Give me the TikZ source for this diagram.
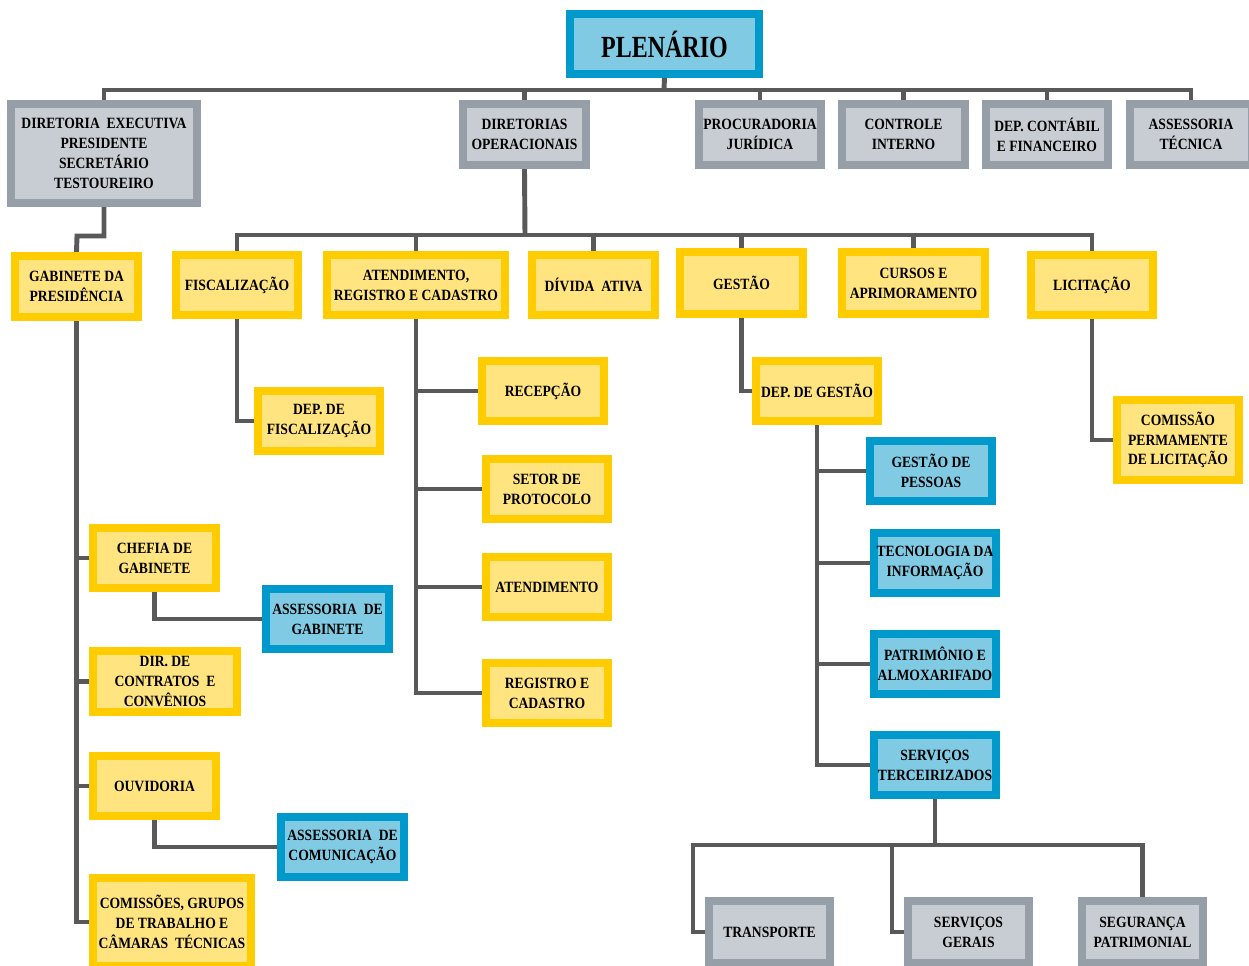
\documentclass[tikz,border=0pt]{standalone}
\usepackage{fontspec}
\setmainfont{Liberation Serif}[FakeStretch=0.87]
\newfontfamily\plfont{Liberation Serif}[FakeStretch=0.78]
\usetikzlibrary{backgrounds}
\definecolor{gbd}{RGB}{150,158,167}
\definecolor{gfl}{RGB}{200,205,211}
\definecolor{ybd}{RGB}{255,204,0}
\definecolor{yfl}{RGB}{255,228,128}
\definecolor{bbd}{RGB}{0,153,204}
\definecolor{bfl}{RGB}{128,203,227}
\definecolor{lc}{RGB}{89,89,89}
\tikzset{
 box/.style={line width=4.5pt, align=center, inner sep=0.5pt, font=\fontsize{8.9}{11.3}\selectfont\bfseries},
 gbox/.style={box, draw=gbd, fill=gfl},
 ybox/.style={box, draw=ybd, fill=yfl},
 bbox/.style={box, draw=bbd, fill=bfl},
 conn/.style={draw=lc, line width=2.8pt},
}
\newcommand\bx[7]{\node[#1, minimum width={(#5-#3-8)*0.5669pt}, minimum height={(#6-#4-8)*0.5669pt}] (#2) at ({(#3+#5)/2},{(#4+#6)/2}) {#7};}
\begin{document}
\begin{tikzpicture}[x=0.02cm,y=-0.02cm]
\useasboundingbox (0,0) rectangle (1249,966);
% top
\bx{bbox,font=\plfont\fontsize{17.5}{20}\selectfont\bfseries}{plen}{566}{10}{763}{78}{PLENÁRIO}
\bx{gbox}{de}{7}{100}{201}{207}{DIRETORIA~~EXECUTIVA\\PRESIDENTE\\SECRETÁRIO\\TESTOUREIRO}
\bx{gbox}{do}{459}{100}{590}{169}{DIRETORIAS\\OPERACIONAIS}
\bx{gbox}{pj}{695}{100}{825}{169}{PROCURADORIA\\JURÍDICA}
\bx{gbox}{ci}{838}{100}{969}{169}{CONTROLE\\INTERNO}
\bx{gbox}{dcf}{982}{100}{1112}{169}{DEP. CONTÁBIL\\E FINANCEIRO}
\bx{gbox}{at}{1126}{100}{1256}{169}{ASSESSORIA\\TÉCNICA}
% second row
\bx{ybox}{gp}{11}{252}{142}{321}{GABINETE DA\\PRESIDÊNCIA}
\bx{ybox}{fis}{172}{251}{302}{319}{FISCALIZAÇÃO}
\bx{ybox}{atr}{323}{251}{509}{319}{ATENDIMENTO,\\REGISTRO E CADASTRO}
\bx{ybox}{da}{528}{251}{659}{319}{DÍVIDA~~ATIVA}
\bx{ybox}{ges}{676}{248}{807}{318}{GESTÃO}
\bx{ybox}{cur}{838}{248}{989}{318}{CURSOS E\\APRIMORAMENTO}
\bx{ybox}{lic}{1027}{251}{1157}{319}{LICITAÇÃO}
% fiscalizacao / atendimento
\bx{ybox}{df}{254}{387}{384}{455}{DEP. DE\\FISCALIZAÇÃO}
\bx{ybox}{rec}{478}{357}{608}{425}{RECEPÇÃO}
\bx{ybox}{sp}{482}{455}{612}{523}{SETOR DE\\PROTOCOLO}
\bx{ybox}{atd}{482}{553}{612}{621}{ATENDIMENTO}
\bx{ybox}{rc}{482}{659}{612}{727}{REGISTRO E\\CADASTRO}
% gestao
\bx{ybox}{dg}{752}{357}{882}{425}{DEP. DE GESTÃO}
\bx{bbox}{gpe}{866}{437}{996}{505}{GESTÃO DE\\PESSOAS}
\bx{bbox}{ti}{870}{529}{1000}{597}{TECNOLOGIA DA\\INFORMAÇÃO}
\bx{bbox}{pa}{870}{630}{1000}{698}{PATRIMÔNIO E\\ALMOXARIFADO}
\bx{bbox}{st}{870}{731}{1000}{799}{SERVIÇOS\\TERCEIRIZADOS}
\bx{gbox}{tr}{705}{897}{834}{967}{TRANSPORTE}
\bx{gbox}{sg}{904}{897}{1033}{967}{SERVIÇOS\\GERAIS}
\bx{gbox}{seg}{1078}{897}{1207}{967}{SEGURANÇA\\PATRIMONIAL}
% licitacao
\bx{ybox}{cpl}{1113}{396}{1243}{484}{COMISSÃO\\PERMAMENTE\\DE LICITAÇÃO}
% gabinete
\bx{ybox}{cg}{89}{524}{220}{592}{CHEFIA DE\\GABINETE}
\bx{bbox}{ag}{262}{585}{393}{653}{ASSESSORIA~~DE\\GABINETE}
\bx{ybox}{dc}{89}{647}{241}{716}{DIR. DE\\CONTRATOS~~E\\CONVÊNIOS}
\bx{ybox}{ouv}{89}{752}{220}{820}{OUVIDORIA}
\bx{bbox}{ac}{277}{813}{408}{881}{ASSESSORIA~~DE\\COMUNICAÇÃO}
\bx{ybox}{com}{89}{874}{255}{970}{COMISSÕES, GRUPOS\\DE TRABALHO E\\CÂMARAS~~TÉCNICAS}
% junction coordinates
\coordinate (b0) at (664,90);
\coordinate (j1) at (77,236);
\coordinate (b2) at (525,235);
\coordinate (b3) at (935,845);
\coordinate (tk) at (693,845);
\coordinate (sk) at (892,845);
\begin{scope}[on background layer]
\fill[white] (0,0) rectangle (1249,966);
\draw[conn] (plen.south) -- (b0);
\draw[conn] (de.north) |- (b0) -| (at.north);
\draw[conn] (do.north) -- (do.north |- b0);
\draw[conn] (pj.north) -- (pj.north |- b0);
\draw[conn] (ci.north) -- (ci.north |- b0);
\draw[conn] (dcf.north) -- (dcf.north |- b0);
\draw[conn] (de.south) |- (j1) -- (gp.north);
\draw[conn] (gp.south) |- (cg.west);
\draw[conn] (gp.south) |- (dc.west);
\draw[conn] (gp.south) |- (ouv.west);
\draw[conn] (gp.south) |- (com.west);
\draw[conn] (cg.south) |- (ag.west);
\draw[conn] (ouv.south) |- (ac.west);
\draw[conn] (do.south) -- (b2);
\draw[conn] (fis.north) |- (b2) -| (lic.north);
\draw[conn] (atr.north) -- (atr.north |- b2);
\draw[conn] (da.north) -- (da.north |- b2);
\draw[conn] (ges.north) -- (ges.north |- b2);
\draw[conn] (cur.north) -- (cur.north |- b2);
\draw[conn] (fis.south) |- (df.west);
\draw[conn] (atr.south) |- (rec.west);
\draw[conn] (atr.south) |- (sp.west);
\draw[conn] (atr.south) |- (atd.west);
\draw[conn] (atr.south) |- (rc.west);
\draw[conn] (ges.south) |- (dg.west);
\draw[conn] (dg.south) |- (gpe.west);
\draw[conn] (dg.south) |- (ti.west);
\draw[conn] (dg.south) |- (pa.west);
\draw[conn] (dg.south) |- (st.west);
\draw[conn] (lic.south) |- (cpl.west);
\draw[conn] (st.south) -- (b3);
\draw[conn] (tr.west) -| (tk) -- (b3);
\draw[conn] (sg.west) -| (sk);
\draw[conn] (b3) -| (seg.north);
\end{scope}
\end{tikzpicture}
\end{document}
